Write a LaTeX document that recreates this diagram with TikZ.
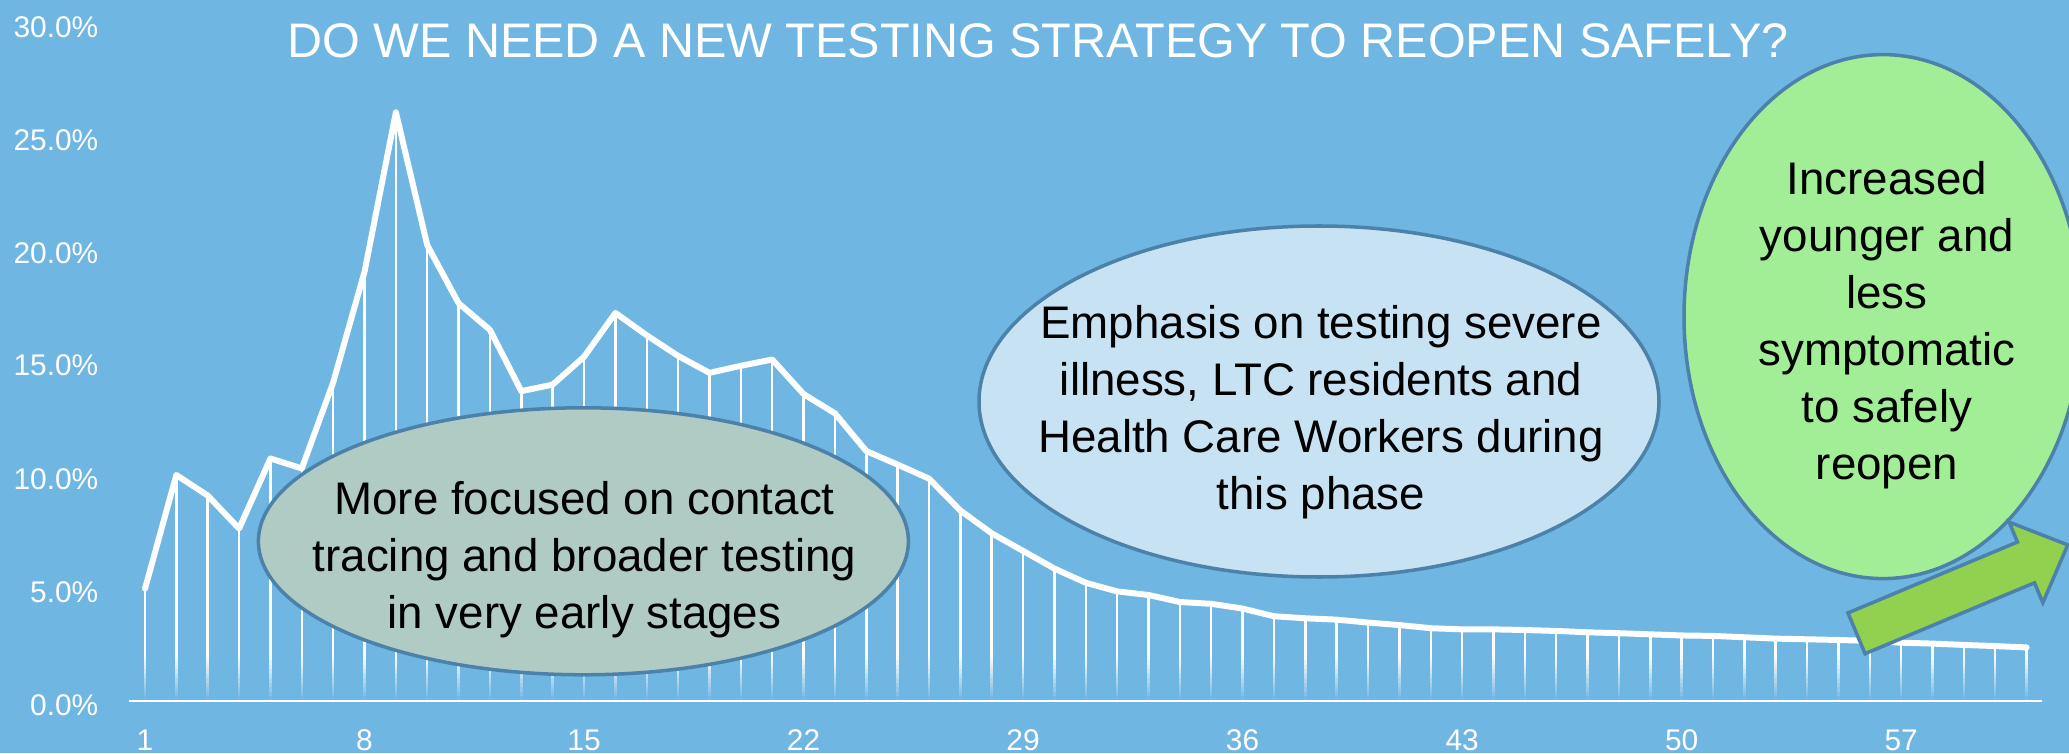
\documentclass[tikz,border=0pt]{standalone}
\usepackage{fontspec}
\setmainfont{Liberation Sans}
\usetikzlibrary{shapes.geometric}
\definecolor{SkyBlue}{HTML}{70B6E3}
\definecolor{EdgeBlue}{HTML}{4C82AA}
\definecolor{SageFill}{HTML}{B0CBC4}
\definecolor{PaleBlue}{HTML}{C6E2F3}
\definecolor{MintFill}{HTML}{A2EE96}
\definecolor{ArrowGreen}{HTML}{92D050}
% day / positivity rate in percent
\newcommand{\posrate}{1/4.97, 2/10.0, 3/9.09, 4/7.63, 5/10.73, 6/10.29, 7/14.09,
  8/18.99, 9/26.05, 10/20.17, 11/17.6, 12/16.42, 13/13.71, 14/14.0, 15/15.23,
  16/17.17, 17/16.18, 18/15.27, 19/14.52, 20/14.83, 21/15.11, 22/13.58, 23/12.73,
  24/11.06, 25/10.46, 26/9.84, 27/8.43, 28/7.42, 29/6.64, 30/5.86, 31/5.23,
  32/4.85, 33/4.69, 34/4.38, 35/4.30, 36/4.09, 37/3.75, 38/3.66, 39/3.60, 40/3.47,
  41/3.36, 42/3.22, 43/3.17, 44/3.17, 45/3.14, 46/3.10, 47/3.04, 48/3.00, 49/2.95,
  50/2.90, 51/2.88, 52/2.82, 53/2.76, 54/2.73, 55/2.70, 56/2.66, 57/2.58, 58/2.54,
  59/2.48, 60/2.43, 61/2.37}

\begin{document}
\begin{tikzpicture}[
  phase/.style={ellipse, draw=EdgeBlue, line width=1pt, inner sep=0pt},
  note/.style={align=center, font=\fontsize{13}{16.2}\selectfont},
  ticklabel/.style={text=white, inner sep=0pt, font=\fontsize{8.5}{10}\selectfont},
  drop/.style={white, line width=0.7pt},
  trend/.style={white, line width=1.7pt, line join=round, line cap=round}
]
\useasboundingbox (0,0) rectangle (20.69,7.53);
\clip (0,0) rectangle (20.69,7.53);
\fill[SkyBlue] (0,0) rectangle (20.69,7.53);

% chart: one unit per day, one unit per percent
\begin{scope}[shift={(1.1364,0.52)}, x=0.3136cm, y=0.226cm]
  \foreach \d/\v in \posrate {
    \draw[drop] (\d,\v) -- (\d,2);
    \foreach \k [evaluate=\k as \op using (\k+0.5)/10] in {0,...,9}
      \draw[drop, opacity=\op] (\d,\k/5) -- (\d,\k/5+0.2);
  }
  \draw[trend] (1,4.97) \foreach \d/\v in \posrate { -- (\d,\v) };
  \draw[white, line width=0.8pt] (0.5,0) coordinate (xstart) -- (61.5,0) coordinate (xend);
  \foreach \v in {0,5,...,30}
    \node[ticklabel, anchor=base east] (ylab\v) at ([yshift=-0.14cm]-0.467,\v) {\v.0\%};
  \foreach \d in {1,8,...,57}
    \node[ticklabel, anchor=base] (xlab\d) at (\d,-2.17) {\d};
\end{scope}

\node[text=white, font=\fontsize{13.8}{16}\selectfont, anchor=base] (title) at (10.38,6.95)
  {DO WE NEED A NEW TESTING STRATEGY TO REOPEN SAFELY?};

% phases
\node[phase, fill=SageFill, minimum width=6.50cm, minimum height=2.67cm] (early) at (5.834,2.117) {};
\node[phase, fill=PaleBlue, minimum width=6.80cm, minimum height=3.51cm] (severe) at (13.19,3.515) {};
\node[phase, fill=MintFill, minimum width=3.98cm, minimum height=5.24cm] (reopen) at (18.83,4.364) {};

\node[note] (earlytext) at (5.845,1.93) {More focused on contact\\tracing and broader testing\\in very early stages};
\node[note] (severetext) at (13.21,3.41) {Emphasis on testing severe\\illness, LTC residents and\\Health Care Workers during\\this phase};
\node[note] (reopentext) at (18.87,4.28) {Increased\\younger and\\less\\symptomatic\\to safely\\reopen};

% upward arrow
\begin{scope}[shift={(18.565,1.197)}, rotate=22.7]
  \draw[EdgeBlue, line width=1pt, fill=ArrowGreen] (0,-0.221) -- (1.837,-0.221) -- (1.837,-0.437)
    -- (2.29,0) -- (1.837,0.437) -- (1.837,0.221) -- (0,0.221) -- cycle;
\end{scope}
\end{tikzpicture}
\end{document}
